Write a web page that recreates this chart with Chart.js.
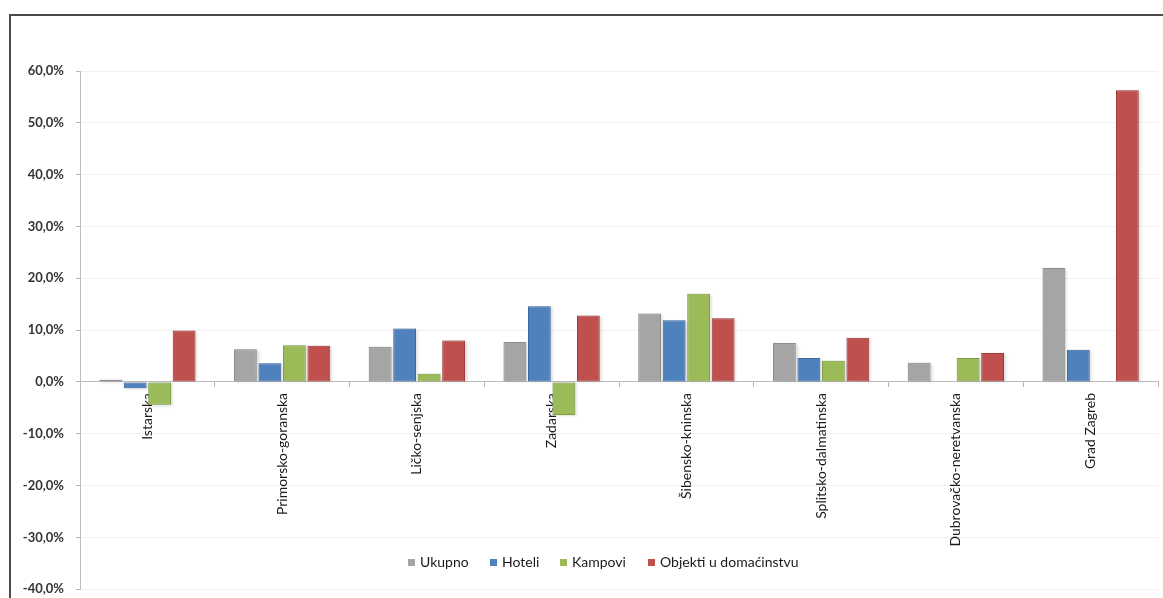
<!DOCTYPE html>
<html><head><meta charset="utf-8">
<script src="https://cdn.jsdelivr.net/npm/chart.js@4.4.1/dist/chart.umd.min.js"></script>
<style>
html,body{margin:0;padding:0;background:#fff;overflow:hidden;width:1163px;height:598px;}
#frame{position:absolute;left:9px;top:14px;width:1200px;height:700px;border-left:2px solid #4a4a4a;border-top:2px solid #4a4a4a;}
#c{position:absolute;left:0;top:0;}
.li{position:absolute;top:554px;font-family:Lato,"Open Sans",sans-serif;font-size:14px;color:#1a1a1a;white-space:nowrap;line-height:16px;}
.li i{display:inline-block;width:7px;height:7px;margin-right:5px;vertical-align:1px;}
</style></head>
<body>
<div id="frame"></div>
<canvas id="c" width="1163" height="609"></canvas>
<div id="legend"></div>
<script>
const categories = ['Istarska','Primorsko-goranska','Ličko-senjska','Zadarska','Šibensko-kninska','Splitsko-dalmatinska','Dubrovačko-neretvanska','Grad Zagreb'];
const seriesNames = ['Ukupno','Hoteli','Kampovi','Objekti u domaćinstvu'];
const ukupno  = [0.4, 6.3, 6.8, 7.7, 13.2, 7.5, 3.7, 22.0];
const hoteli  = [-1.2, 3.6, 10.3, 14.6, 11.9, 4.6, 0, 6.2];
const kampovi = [-4.4, 7.1, 1.6, -6.4, 17.0, 4.1, 4.6, 0];
const objekti = [9.9, 7.0, 8.0, 12.8, 12.3, 8.5, 5.6, 56.3];
const yTicks = [60,50,40,30,20,10,0,-10,-20,-30,-40];

const fills   = ['#A5A5A5','#4F81BD','#9BBB59','#C0504D'];
const borders = ['#8E8E8E','#3B6BA5','#82A042','#A33C39'];
const legendLeft = [408,490,560,648];

const lg = document.getElementById('legend');
seriesNames.forEach((n,i)=>{
  const d=document.createElement('div'); d.className='li'; d.style.left=legendLeft[i]+'px';
  d.innerHTML='<i style="background:'+fills[i]+'"></i>'+n; lg.appendChild(d);
});

const shadowPlugin = {
  id:'shadow',
  beforeDatasetsDraw(chart){
    const ctx=chart.ctx; ctx.save();
    ctx.shadowColor='rgba(0,0,0,0.25)'; ctx.shadowBlur=3; ctx.shadowOffsetX=2; ctx.shadowOffsetY=1;
    ctx.fillStyle='rgba(200,200,200,0.6)';
    chart.data.datasets.forEach((ds,i)=>{
      chart.getDatasetMeta(i).data.forEach(el=>{
        const {x,y,base,width}=el.getProps(['x','y','base','width'],true);
        const top=Math.min(y,base), h=Math.abs(base-y);
        if(h>0.5) ctx.fillRect(x-width/2, top, width, h);
      });
    });
    ctx.restore();
  }
};

const allSeries=[ukupno,hoteli,kampovi,objekti];
new Chart(document.getElementById('c'),{
  type:'bar',
  data:{labels:categories,datasets:allSeries.map((d,i)=>({label:seriesNames[i],data:d,backgroundColor:fills[i],borderColor:borders[i],borderWidth:1,borderSkipped:false,categoryPercentage:0.727,barPercentage:0.93}))},
  options:{
    responsive:false,animation:false,devicePixelRatio:1,
    layout:{padding:{left:0,right:5,top:71,bottom:0}},
    plugins:{legend:{display:false},tooltip:{enabled:false}},
    scales:{
      x:{position:{y:0},
        grid:{offset:true,drawOnChartArea:false,drawTicks:true,tickLength:5,tickColor:'#b5b5b5'},
        border:{display:true,color:'#bdbdbd',width:1},
        ticks:{minRotation:90,maxRotation:90,autoSkip:false,padding:6,color:'#1a1a1a',font:{family:'Lato, "Open Sans", sans-serif',size:14}}
      },
      y:{min:-40,max:60,
        afterBuildTicks(s){s.ticks=yTicks.map(v=>({value:v}));},
        afterFit(s){s.width=80;},
        grid:{color:'#f0f0f0',tickColor:'#b5b5b5',tickLength:4},
        border:{display:true,color:'#bdbdbd',width:1},
        ticks:{padding:12,color:'#333',font:{family:'Lato, "Open Sans", sans-serif',size:13,weight:'bold'},callback:v=>v.toFixed(1).replace('.',',')+'%'}
      }
    }
  },
  plugins:[shadowPlugin]
});
</script>
</body></html>
